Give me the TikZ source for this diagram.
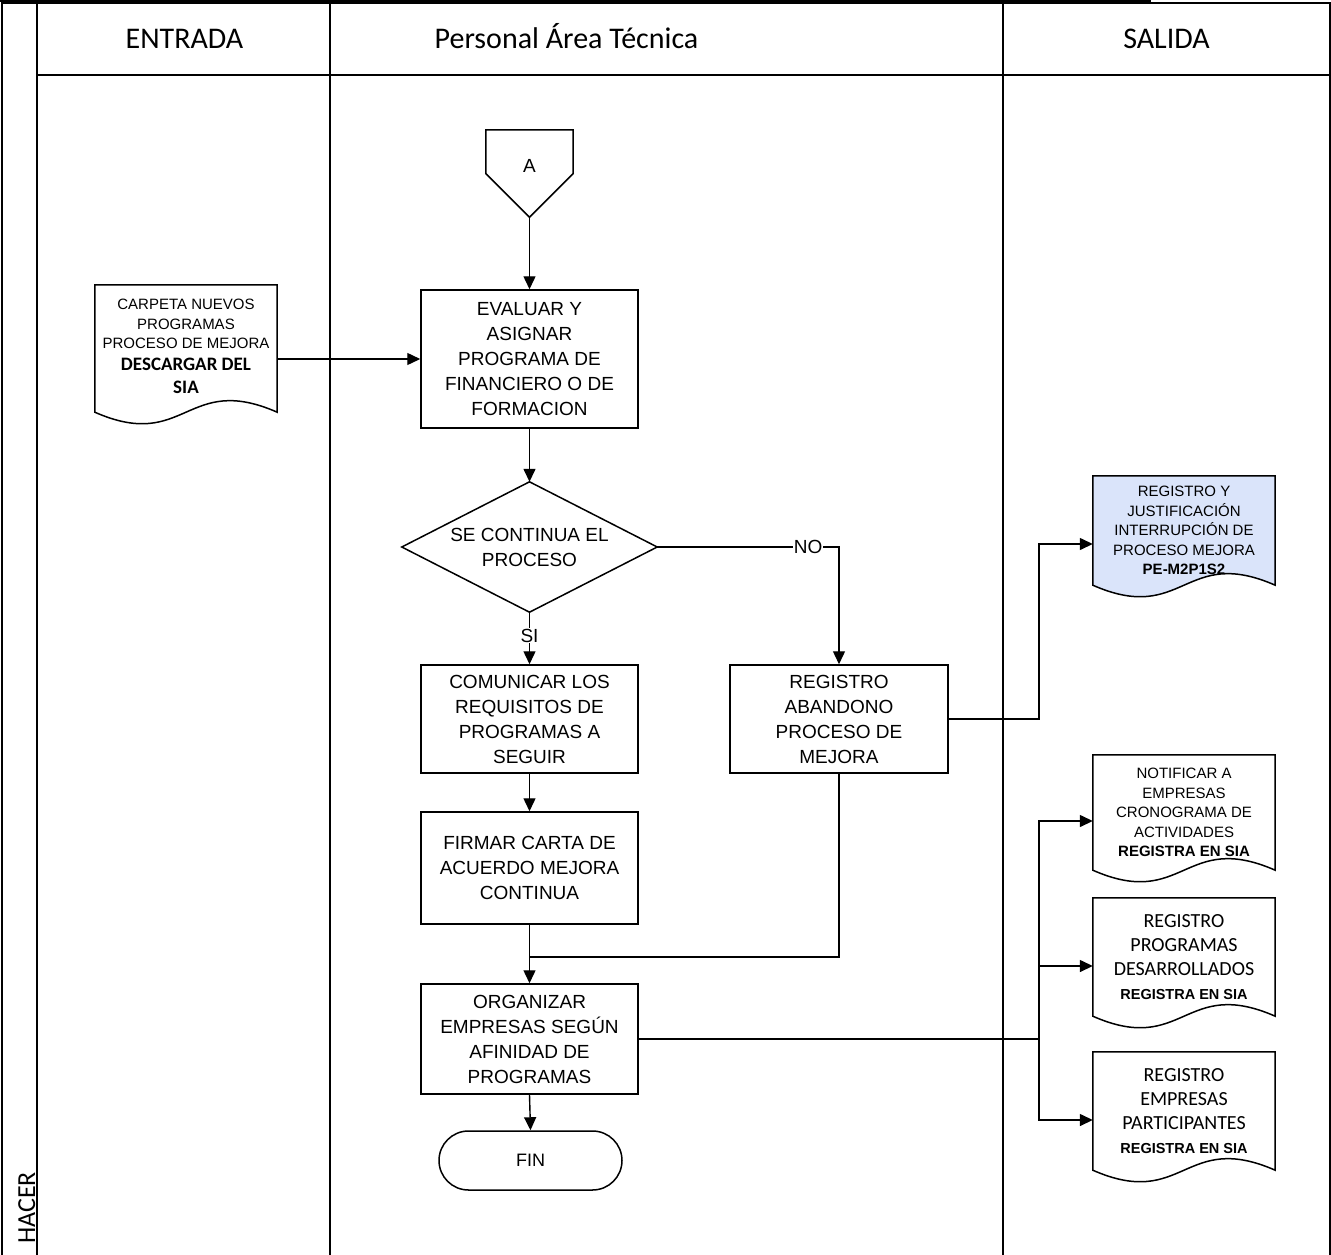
\documentclass[tikz,border=0pt]{standalone}
\usepackage{fontspec}
\setmainfont{Liberation Sans}
\newfontfamily\lanefont{Carlito}
\usepackage{tikz}
\usetikzlibrary{positioning}
\usetikzlibrary{calc,backgrounds}
\usetikzlibrary{arrows.meta}
\definecolor{docblue}{RGB}{218,228,250}
\tikzset{>={Triangle[length=13pt,width=12pt]}}

\tikzset{
  lane/.style={line width=2pt},
  lanehead/.style={anchor=base, font=\lanefont\fontsize{30}{36}\selectfont},
  proc/.style={draw, line width=1.5pt, minimum width=217, minimum height=108,
    align=center, inner sep=2pt, font=\fontsize{19}{25}\selectfont},
  term/.style={draw, line width=1.5pt, rounded corners=29.5pt, minimum width=183,
    minimum height=59, font=\fontsize{18}{22}\selectfont},
  doctext/.style={minimum width=182, align=center, inner sep=2pt,
    font=\fontsize{15}{19.5}\selectfont},
  regtext/.style={doctext, font=\lanefont\fontsize{20}{24}\selectfont},
  flow/.style={->, line width=1.4pt},
  line/.style={line width=1.4pt},
  tag/.style={fill=white, inner sep=1pt, font=\fontsize{19}{22}\selectfont},
}

% document symbol with a wavy foot, drawn round a text node
\newcommand{\docshape}[2][]{%
  \draw[line width=1.5pt,#1] (#2.south west) -- (#2.north west) -- (#2.north east)
    -- (#2.south east) .. controls ($(#2.south)+(0,-40)$) and ($(#2.south)+(0,40)$)
    .. (#2.south west) -- cycle;}
\newcommand{\sia}[1]{{\lanefont\bfseries\fontsize{19}{24}\selectfont #1}}
\newcommand{\enSIA}{{\rmfamily\bfseries\fontsize{14.5}{23}\selectfont REGISTRA EN SIA}}

\begin{document}
\begin{tikzpicture}[x=1pt, y=-1pt]
\useasboundingbox (0,0) rectangle (1331,1255);

% ---------- Swimlanes ----------
\draw[line width=1.5pt] (0,0.8) -- (1150,0.8) -- (1150,3);
\draw[lane] (2,1255) -- (2,3) -- (1330,3) -- (1330,1255);
\draw[lane] (37,3) -- (37,1255);
\draw[lane] (330,3) -- (330,1255);
\draw[lane] (1003,3) -- (1003,1255);
\draw[lane] (37,75) -- (1330,75);

\node[lanehead] (hin) at (184.5,49) {ENTRADA};
\node[lanehead] (hpat) at (566.5,49) {Personal Área Técnica};
\node[lanehead] (hout) at (1166.5,49) {SALIDA};
\node[lanehead, rotate=90, font=\lanefont\fontsize{26}{30}\selectfont] (hacer) at (35,1208) {HACER};

% ---------- Entrada ----------
\node[doctext, minimum height=127, text depth=4pt] (cin) at (186,348.5)
  {CARPETA NUEVOS\\PROGRAMAS\\PROCESO DE MEJORA\\[2pt]\sia{DESCARGAR DEL}\\[4pt]\sia{SIA}};
\docshape{cin}

% ---------- Personal Area Tecnica ----------
\node[minimum width=87, minimum height=87, inner sep=0, text depth=16pt,
  font=\fontsize{19}{22}\selectfont] (conA) at (529.5,173.5) {A};
\draw[line width=1.5pt] (conA.north west) -- (conA.north east) -- (conA.east)
  -- (conA.south) -- (conA.west) -- cycle;

\node[proc, minimum height=138] (beval) at (529.5,359)
  {EVALUAR Y\\ASIGNAR\\PROGRAMA DE\\FINANCIERO O DE\\FORMACION};

\node[minimum width=255, minimum height=130, inner sep=0, align=center,
  font=\fontsize{19}{25}\selectfont] (dq) at (529.5,547) {SE CONTINUA EL\\PROCESO};
\draw[line width=1.5pt] (dq.north) -- (dq.east) -- (dq.south) -- (dq.west) -- cycle;

\node[proc] (bcom) at (529.5,719) {COMUNICAR LOS\\REQUISITOS DE\\PROGRAMAS A\\SEGUIR};
\node[proc, minimum width=218] (bab) at (839,719) {REGISTRO\\ABANDONO\\PROCESO DE\\MEJORA};
\node[proc, minimum height=112] (bfirm) at (529.5,868) {FIRMAR CARTA DE\\ACUERDO MEJORA\\CONTINUA};
\node[proc, minimum height=110] (borg) at (529.5,1039) {ORGANIZAR\\EMPRESAS SEGÚN\\AFINIDAD DE\\PROGRAMAS};
\node[term] (fin) at (530.5,1160.5) {FIN};

% ---------- Salida ----------
\node[doctext, minimum height=109] (dreg) at (1184,530.5)
  {REGISTRO Y\\JUSTIFICACIÓN\\INTERRUPCIÓN DE\\PROCESO MEJORA\\\textbf{PE-M2P1S2}};
\begin{scope}[on background layer]
  \docshape[fill=docblue]{dreg}
\end{scope}

\node[doctext, minimum height=115] (dnot) at (1184,812.5)
  {NOTIFICAR A\\EMPRESAS\\CRONOGRAMA DE\\ACTIVIDADES\\\textbf{REGISTRA EN SIA}};
\docshape{dnot}

\node[regtext, minimum height=118] (dprog) at (1184,957)
  {REGISTRO\\PROGRAMAS\\DESARROLLADOS\\\enSIA};
\docshape{dprog}

\node[regtext, minimum height=118] (demp) at (1184,1111)
  {REGISTRO\\EMPRESAS\\PARTICIPANTES\\\enSIA};
\docshape{demp}

% ---------- Connectors ----------
\draw[flow] (conA.south) -- (beval.north);
\draw[flow] (cin.east |- beval.west) -- (beval.west);
\draw[flow] (beval.south) -- (dq.north);
\draw[flow] (dq.south) -- node[tag, pos=0.45] {SI} (bcom.north);
\draw[flow] (dq.east) -| node[tag, pos=0.415] {NO} (bab.north);
\draw[flow] (bcom.south) -- (bfirm.north);
\draw[flow] (bfirm.south) -- (borg.north);
\coordinate (merge) at (529.5,957);
\draw[line] (bab.south) |- (merge);
\draw[flow] (borg.south) -- (fin.north);

\coordinate (busA) at (1039,719);
\coordinate (busB) at (1039,1039);
\draw[flow] (bab.east) -- (busA) |- ([yshift=-13.5]dreg.west);
\draw[flow] (borg.east) -- (busB) |- ([yshift=-8.5]dnot.west);
\draw[flow] (busB) |- ([yshift=-9]dprog.west);
\draw[flow] (busB) |- ([yshift=-9]demp.west);

\end{tikzpicture}
\end{document}
